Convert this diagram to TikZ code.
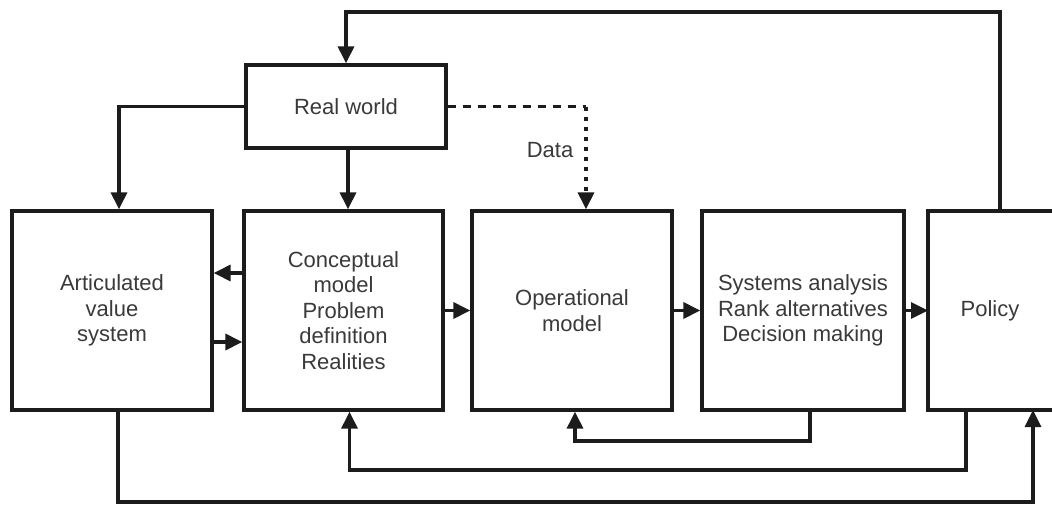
\documentclass[tikz,border=0pt]{standalone}
\usepackage{fontspec}
\setmainfont{Liberation Sans}
\usetikzlibrary{arrows.meta}
\definecolor{ln}{HTML}{1C1C1C}
\definecolor{tx}{HTML}{3A3A3A}
\begin{document}
\begin{tikzpicture}[x=1pt,y=-1pt,
  box/.style={draw=ln,line width=3.3pt,minimum width=200pt,minimum height=199pt,inner sep=0pt,
    text=tx,align=center,font=\fontsize{22}{25.5}\selectfont},
  conn/.style={draw=ln,line width=3.3pt},
  arr/.style={conn,-{Triangle[length=17pt,width=16pt]}},
  lbl/.style={text=tx,font=\fontsize{22}{25.5}\selectfont}]
\useasboundingbox (0,0) rectangle (1052,506);
\fill[white] (0,0) rectangle (1052,506);
\node[box,minimum height=83pt] (real) at (346,106.5) {Real world};
\node[box] (art) at (112,310.5) {Articulated\\value\\system};
\node[box,minimum width=199pt] (conc) at (343.5,310.5) {Conceptual\\model\\Problem\\definition\\Realities};
\node[box] (op) at (572,310.5) {Operational\\model};
\node[box,minimum width=202pt] (sys) at (803,310.5) {Systems analysis\\Rank alternatives\\Decision making};
\node[box,draw=none,outer sep=0pt,minimum width=124pt,minimum height=199pt] (pol) at (990,310.5) {Policy};
\draw[conn] (pol.north east) -- (pol.north west) -- (pol.south west) -- (pol.south east);
\coordinate (ytop) at (0,12);
\coordinate (yA) at (0,273);
\coordinate (yB) at (0,342);
\coordinate (ysys) at (0,441);
\coordinate (ypol) at (0,470);
\coordinate (yart) at (0,502);
\coordinate (dc) at (586,106.5);
% top loop
\draw[arr] ([xshift=72pt]pol.north west) -- ([xshift=72pt]pol.north west |- ytop) -| (real.north);
% real world outputs
\draw[arr] (real.west) -| ([xshift=7pt]art.north);
\draw[arr] ([xshift=2pt]real.south) -- ([xshift=2pt]real.south |- conc.north);
\draw[conn,dash pattern=on 8pt off 7pt] (real.east) -- (dc);
\draw[arr,dash pattern=on 4pt off 6pt] (dc) -- (dc |- op.north);
\node[lbl] (data) at (550,150) {Data};
% between articulated and conceptual
\draw[arr] (conc.west |- yA) -- (art.east |- yA);
\draw[arr] (art.east |- yB) -- (conc.west |- yB);
% main flow
\draw[arr] (conc.east) -- (op.west);
\draw[arr] (op.east) -- (sys.west);
\draw[arr] (sys.east) -- (pol.west);
% feedback loops
\draw[arr] ([xshift=7pt]sys.south) -- ([xshift=7pt]sys.south |- ysys) -| ([xshift=3pt]op.south);
\draw[arr] ([xshift=-24pt]pol.south) -- ([xshift=-24pt]pol.south |- ypol) -| ([xshift=6pt]conc.south);
\draw[arr] ([xshift=6pt]art.south) -- ([xshift=6pt]art.south |- yart) -| ([xshift=43pt]pol.south);
\end{tikzpicture}
\end{document}
